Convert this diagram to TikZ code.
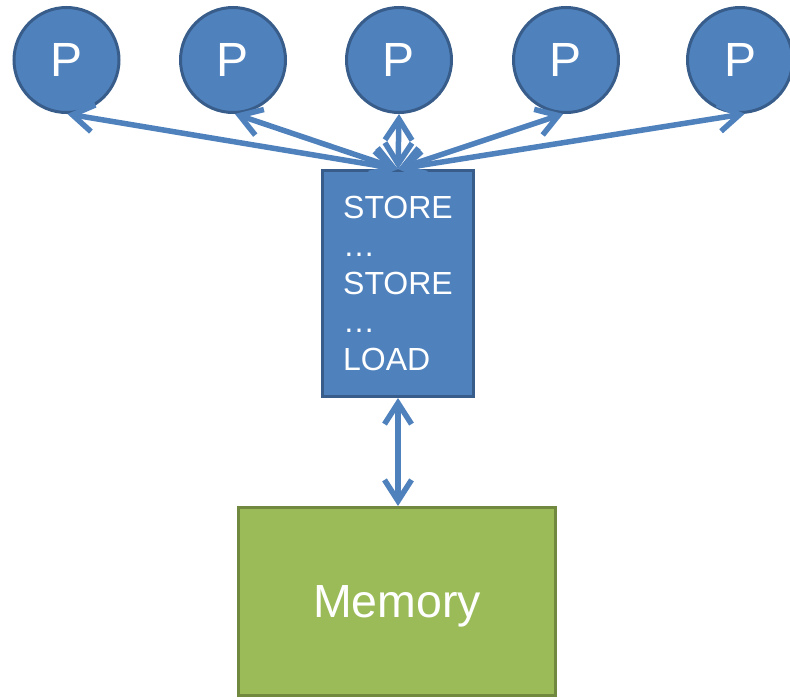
\documentclass[tikz,border=0pt]{standalone}
\usepackage{fontspec}
\setmainfont{Liberation Sans}
\usetikzlibrary{arrows.meta}
\definecolor{pfill}{HTML}{4F81BD}
\definecolor{pline}{HTML}{385D8A}
\definecolor{gfill}{HTML}{9BBB59}
\definecolor{gline}{HTML}{71893F}
\begin{document}
\begin{tikzpicture}[x=1pt,y=-1pt,
  proc/.style={circle,draw=pline,fill=pfill,line width=3pt,minimum size=105pt,inner sep=0pt,text=white,font=\fontsize{48}{48}\selectfont},
  qbox/.style={rectangle,draw=pline,fill=pfill,line width=3pt,minimum width=151pt,minimum height=226pt,inner sep=0pt,text=white,align=left,font=\fontsize{32}{38}\selectfont},
  mbox/.style={rectangle,draw=gline,fill=gfill,line width=3pt,minimum width=317pt,minimum height=188pt,inner sep=0pt,text=white,text depth=0pt,font=\fontsize{46.5}{46.5}\selectfont},
  link/.style={draw=pfill,line width=5.5pt,line cap=round,line join=round,{Straight Barb[length=21pt,width=27pt]}-{Straight Barb[length=21pt,width=27pt]}}]
\useasboundingbox (0,0) rectangle (790,699);
\node[proc] (p1) at (66.5,60) {P};
\node[proc] (p2) at (233,60) {P};
\node[proc] (p3) at (399,60) {P};
\node[proc] (p4) at (566,60) {P};
\node[proc] (p5) at (740,60) {P};
\node[qbox] (q) at (398,283.5) {STORE\\\ldots\\STORE\\\ldots\\LOAD};
\node[mbox] (m) at (397,601.5) {Memory};
\path[link] (q.north) -- (p1.271);
\path[link] (q.north) -- (p2.272);
\path[link] (q.north) -- (p3.south);
\path[link] (q.north) -- (p4.267);
\path[link] (q.north) -- (p5.275);
\path[link] (q.south) -- (q.south |- m.north);
\end{tikzpicture}
\end{document}
